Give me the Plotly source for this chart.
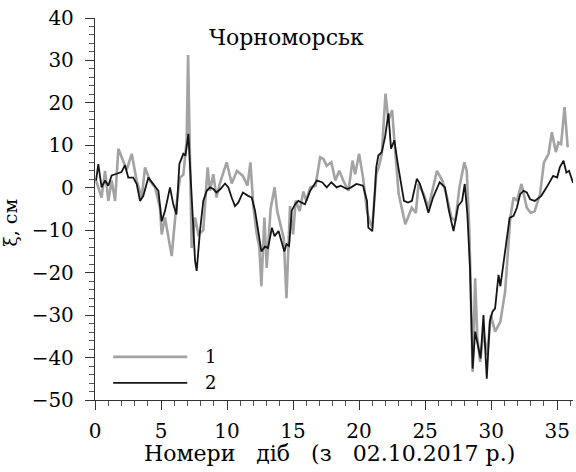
import plotly.graph_objects as go

# Series 1 (gray)
days_1 = [0.08, 0.5, 0.76, 1.01, 1.26, 1.52, 1.77, 2.15, 2.4, 2.78, 3.16, 3.54, 3.79, 4.17, 4.55, 4.92,
          5.05, 5.3, 5.81, 6.14, 6.44, 6.69, 6.94, 7.05, 7.32, 7.58, 7.83, 8.2, 8.53, 8.71, 8.96, 9.2,
          9.45, 9.97, 10.35, 10.75, 11.2, 11.55, 11.77, 12.0, 12.25, 12.45, 12.6, 12.83, 13.0, 13.3,
          13.6, 13.8, 14.1, 14.3, 14.5, 14.77, 15.0, 15.2, 15.5, 15.78, 16.0, 16.3, 16.7, 17.05, 17.3,
          17.55, 17.9, 18.2, 18.5, 18.8, 19.2, 19.5, 19.7, 20.0, 20.3, 20.6, 20.8, 21.0, 21.3, 21.5,
          21.72, 22.0, 22.22, 22.5, 22.72, 23.0, 23.5, 23.99, 24.3, 24.5, 24.9, 25.25, 25.9, 26.3,
          26.6, 27.0, 27.3, 27.6, 27.97, 28.15, 28.35, 28.45, 28.6, 28.79, 28.95, 29.17, 29.42, 29.7,
          29.98, 30.3, 30.7, 31.06, 31.3, 31.45, 31.7, 31.95, 32.3, 32.7, 33.0, 33.3, 33.7, 34.0,
          34.35, 34.6, 34.9, 35.1, 35.3, 35.56, 35.8]
xi_1 = [1.7, -2.3, 4.0, -3.1, 1.7, -3.1, 9.2, 6.4, 4.2, 8.0, 1.6, -2.3, 4.8, 1.6, 0.1, -4.7,
        -11.0, -7.0, -16.1, -4.7, 2.4, 3.1, 11.0, 31.3, -14.2, -7.0, -11.0, -10.0, 4.8, -0.7, 3.2, -2.3,
        1.0, 6.0, 1.0, 4.0, 2.8, 0.5, 6.0, -4.7, -10.9, -14.2, -23.2, -7.0, -18.9, -5.0,
        0.1, -5.5, -9.4, -12.0, -26.0, -4.3, -11.0, -3.0, -5.5, -0.9, -3.1, 0.1, 0.5, 7.2, 6.8,
        5.2, 6.0, 1.7, 4.0, 1.7, -0.7, 6.4, 3.2, 8.0, 2.4, -5.5, -7.9, -9.4, 3.2, 5.0,
        8.0, 22.2, 15.9, 18.3, 9.2, -1.5, -8.6, -4.7, -5.9, 0.9, -1.5, -4.7, 4.0, 1.7,
        -1.5, -7.0, -7.8, 0.1, 6.0, 4.0, -10.0, -22.0, -43.4, -21.3, -35.0, -41.0, -33.9, -39.4,
        -30.0, -33.9, -31.5, -24.4, -14.9, -7.1, -2.3, -3.1, 0.9, -4.7, -5.9, -5.5, -1.5, 6.0,
        8.0, 13.1, 8.4, 10.7, 10.3, 19.0, 9.5]

# Series 2 (black)
days_2 = [0.08, 0.25, 0.5, 0.76, 1.01, 1.26, 1.64, 2.0, 2.27, 2.52, 2.9, 3.16, 3.41, 3.66, 4.04, 4.42,
          4.8, 5.05, 5.3, 5.68, 5.93, 6.17, 6.39, 6.69, 6.85, 7.07, 7.32, 7.58, 7.7, 7.95, 8.2, 8.46,
          8.71, 8.96, 9.2, 9.5, 9.85, 10.1, 10.35, 10.6, 10.85, 11.2, 11.6, 11.87, 12.12, 12.37, 12.6,
          12.88, 13.1, 13.4, 13.6, 13.9, 14.1, 14.34, 14.5, 14.7, 14.9, 15.15, 15.4, 15.65, 15.9, 16.3,
          16.8, 17.2, 17.55, 17.9, 18.3, 18.6, 19.1, 19.4, 19.8, 20.3, 20.6, 20.7, 21.0, 21.2, 21.3,
          21.46, 21.72, 21.97, 22.22, 22.42, 22.67, 22.93, 23.2, 23.4, 23.7, 24.0, 24.37, 24.6, 25.0,
          25.25, 25.6, 26.1, 26.5, 26.8, 27.15, 27.5, 27.8, 28.0, 28.2, 28.4, 28.6, 28.79, 29.04,
          29.2, 29.42, 29.67, 29.9, 30.1, 30.3, 30.56, 30.7, 30.9, 31.2, 31.4, 31.7, 31.95, 32.2,
          32.45, 32.7, 32.95, 33.3, 33.6, 33.8, 34.2, 34.7, 35.0, 35.2, 35.48, 35.7, 35.9, 36.2]
xi_2 = [1.7, 5.6, 0.1, 1.7, 0.5, 2.9, 3.3, 3.7, 5.3, 2.4, 2.4, 0.9, -3.1, -1.9, 2.4, 0.9,
        -0.7, -7.9, -5.5, 0.1, -3.9, -6.3, 5.6, 8.0, 7.6, 12.7, -2.3, -17.3, -19.6, -10.2, -3.1, -0.7,
        0.1, -0.3, -1.1, -0.3, 1.0, 0.1, -2.3, -4.3, -3.5, -1.1, -1.9, -2.3, -5.4, -10.2, -15.0,
        -13.8, -14.2, -9.4, -11.4, -10.2, -12.6, -15.0, -13.3, -13.7, -5.4, -3.9, -3.1, -3.5, -3.9, -0.7,
        1.7, 1.3, 0.1, 1.3, 0.1, 0.5, -0.3, 0.1, 0.9, 0.5, -3.1, -9.4, -10.2, -0.7, 4.8,
        7.6, 8.4, 12.0, 17.5, 9.2, 11.2, 5.6, 0.9, -3.1, -3.5, -3.1, 2.1, 1.0, -3.1,
        -5.9, -2.3, 1.3, 0.1, -5.4, -10.2, -4.3, -3.1, 0.9, -6.2, -18.9, -42.6, -33.9, -37.8,
        -40.2, -30.0, -45.0, -31.5, -29.2, -28.4, -20.5, -23.2, -18.9, -12.6, -7.1, -6.6, -4.7, -1.5,
        -0.7, -1.1, -2.7, -3.1, -2.3, -1.9, 0.1, 2.8, 2.4, 4.8, 6.4, 3.6, 4.0, 1.2]

series_names = ["1", "2"]
title_text = "Чорноморськ"
x_title = "Номери\u00a0\u00a0\u00a0діб\u00a0\u00a0\u00a0(з\u00a0\u00a0\u00a002.10.2017\u00a0р.)"
y_title = "ξ, см"

GRAY = "#a3a3a3"
BLACK = "#151515"
FONT = "DejaVu Serif, serif"

fig = go.Figure()
fig.add_trace(go.Scatter(x=days_1, y=xi_1, mode="lines", name=series_names[0],
                         line=dict(color=GRAY, width=2.6), showlegend=False))
fig.add_trace(go.Scatter(x=days_2, y=xi_2, mode="lines", name=series_names[1],
                         line=dict(color=BLACK, width=1.8), showlegend=False))

# legend drawn manually
for i, (col, w) in enumerate([(GRAY, 2.6), (BLACK, 1.8)]):
    yy = 0.113 - i * 0.068
    fig.add_shape(type="line", xref="paper", yref="paper", x0=0.038, x1=0.193, y0=yy, y1=yy,
                  line=dict(color=col, width=w))
    fig.add_annotation(xref="paper", yref="paper", x=0.225, y=yy, text=series_names[i],
                       showarrow=False, xanchor="left", yanchor="middle",
                       font=dict(family=FONT, size=18, color="black"))

fig.add_annotation(xref="paper", yref="paper", x=0.40, y=0.95, text=title_text, showarrow=False,
                   xanchor="center", yanchor="middle", font=dict(family=FONT, size=22, color="black"))
fig.add_annotation(xref="paper", yref="paper", x=0.49, y=-0.14, text=x_title, showarrow=False,
                   xanchor="center", yanchor="middle", font=dict(family=FONT, size=22, color="black"))
fig.add_annotation(xref="paper", yref="paper", x=-0.177, y=0.465, text=y_title, showarrow=False,
                   textangle=-90, xanchor="center", yanchor="middle",
                   font=dict(family=FONT, size=19, color="black"))

fig.update_layout(
    width=576, height=472,
    margin=dict(l=95, r=3, t=18, b=72),
    paper_bgcolor="white", plot_bgcolor="white",
    font=dict(family=FONT, size=20, color="black"),
)
fig.update_xaxes(range=[0, 36.2], showgrid=False, zeroline=False, showline=True, linecolor="#333",
                 linewidth=1.3, ticks="outside", ticklen=9, tickcolor="#333", dtick=5, tick0=0,
                 ticklabelstandoff=4,
                 minor=dict(dtick=1, ticks="outside", ticklen=5, tickcolor="#555", showgrid=False))
fig.update_yaxes(range=[-50, 40], showgrid=False, zeroline=False, showline=True, linecolor="#333",
                 linewidth=1.3, ticks="outside", ticklen=9, tickcolor="#333", dtick=10, tick0=0,
                 ticklabelstandoff=7,
                 minor=dict(dtick=2, ticks="outside", ticklen=5, tickcolor="#555", showgrid=False))

fig.write_html("out.html")
